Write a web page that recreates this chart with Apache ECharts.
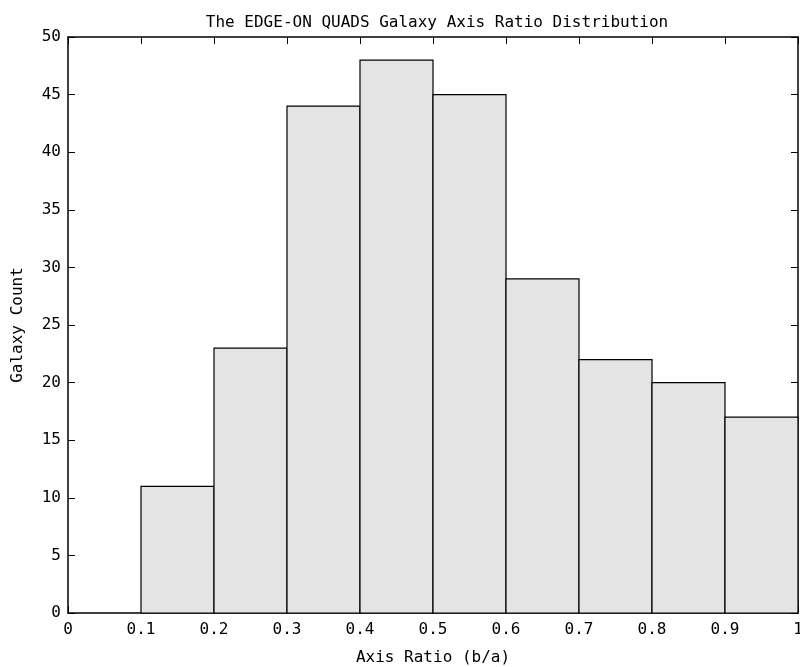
<!DOCTYPE html>
<html>
<head>
<meta charset="utf-8">
<script src="https://cdn.jsdelivr.net/npm/echarts@6/dist/echarts.min.js"></script>
<style>
  html, body { margin: 0; padding: 0; background: #fff; }
  #main { width: 800px; height: 667px; }
</style>
</head>
<body>
<div id="main"></div>
<script>
// bin edges (left side) and counts
var binStart = [0.1, 0.2, 0.3, 0.4, 0.5, 0.6, 0.7, 0.8, 0.9];
var binWidth = 0.1;
var counts = [11, 23, 44, 48, 45, 29, 22, 20, 17];

var font = "DejaVu Sans Mono";
var fs = 16;

var chart = echarts.init(document.getElementById("main"));

var data = binStart.map(function (s, i) {
  return [s, s + binWidth, counts[i]];
});

var tickStyle = { show: true, inside: true, length: 7, lineStyle: { color: "#000" } };
var lineStyle = { show: true, onZero: false, lineStyle: { color: "#000", width: 1.5 } };

chart.setOption({
  animation: false,
  title: {
    text: "The EDGE-ON QUADS Galaxy Axis Ratio Distribution",
    left: 432,
    top: 10,
    textAlign: "center",
    textStyle: { fontFamily: font, fontSize: fs, fontWeight: "normal", color: "#000" }
  },
  grid: { left: 68, right: 2, top: 37, bottom: 54, outerBoundsMode: "none" },
  xAxis: [
    {
      type: "value",
      min: 0,
      max: 1,
      interval: 0.1,
      name: "Axis Ratio (b/a)",
      nameLocation: "middle",
      nameGap: 37,
      nameTextStyle: { fontFamily: font, fontSize: fs, color: "#000" },
      axisLine: lineStyle,
      axisTick: tickStyle,
      axisLabel: { fontFamily: font, fontSize: fs, color: "#000", margin: 9 },
      splitLine: { show: false }
    },
    {
      type: "value",
      position: "top",
      min: 0,
      max: 1,
      interval: 0.1,
      axisLine: lineStyle,
      axisTick: tickStyle,
      axisLabel: { show: false },
      splitLine: { show: false }
    }
  ],
  yAxis: [
    {
      type: "value",
      min: 0,
      max: 50,
      interval: 5,
      name: "Galaxy Count",
      nameLocation: "middle",
      nameGap: 42,
      nameTextStyle: { fontFamily: font, fontSize: fs, color: "#000" },
      axisLine: lineStyle,
      axisTick: tickStyle,
      axisLabel: { fontFamily: font, fontSize: fs, color: "#000", margin: 7 },
      splitLine: { show: false }
    },
    {
      type: "value",
      position: "right",
      min: 0,
      max: 50,
      interval: 5,
      axisLine: lineStyle,
      axisTick: tickStyle,
      axisLabel: { show: false },
      splitLine: { show: false }
    }
  ],
  series: [
    {
      type: "custom",
      xAxisIndex: 0,
      yAxisIndex: 0,
      data: data,
      encode: { x: [0, 1], y: 2 },
      renderItem: function (params, api) {
        var p0 = api.coord([api.value(0), 0]);
        var p1 = api.coord([api.value(1), api.value(2)]);
        return {
          type: "rect",
          shape: { x: p0[0], y: p1[1], width: p1[0] - p0[0], height: p0[1] - p1[1] },
          style: { fill: "#e4e4e4", stroke: "#000", lineWidth: 1.2 }
        };
      }
    }
  ]
});
</script>
</body>
</html>
